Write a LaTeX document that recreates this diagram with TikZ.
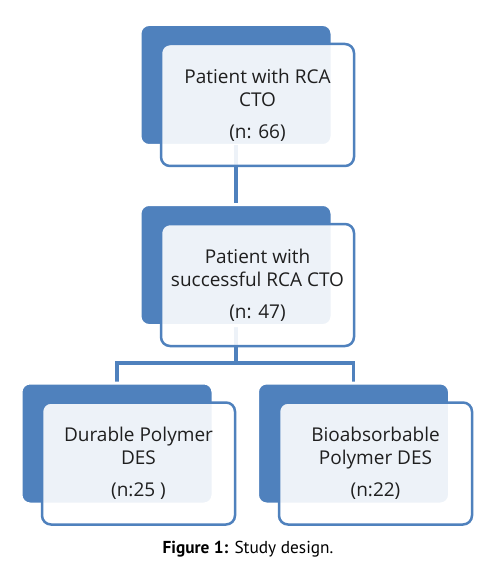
\documentclass[tikz,border=0pt]{standalone}
\usepackage{fontspec}
\setmainfont{Open Sans}
\newfontfamily\capfont{PT Sans}
\definecolor{obl}{HTML}{4F81BD}
\begin{document}
\begin{tikzpicture}[x=1pt,y=-1pt,
  backbox/.style={fill=obl,draw=white,line width=3pt,rounded corners=9pt,minimum width=192pt,minimum height=121pt,inner sep=0pt,outer sep=0pt},
  frontbox/.style={fill=white,fill opacity=0.9,draw=obl,draw opacity=1,line width=2.5pt,rounded corners=9pt,minimum width=193pt,minimum height=122pt,inner sep=0pt,outer sep=0pt,
    text opacity=1,align=center,font=\fontsize{19}{23}\selectfont,text=black!88},
  link/.style={draw=obl,line width=3.2pt}]
\useasboundingbox[fill=white] (0,0) rectangle (490,561);
% back boxes
\node[backbox] (b1) at (236,85) {};
\node[backbox] (b2) at (236,265) {};
\node[backbox] (b3) at (117,443.5) {};
\node[backbox] (b4) at (353.5,443.5) {};
\coordinate (j) at (236,363);
% connectors (behind front boxes)
\draw[link] (b1.south) -- (b2.north);
\draw[link] (b2.south) -- (j) -| (b3.north);
\draw[link] (j) -| (b4.north);
% redraw back boxes over connector ends
\node[backbox] at (236,265) {};
\node[backbox] at (117,443.5) {};
\node[backbox] at (353.5,443.5) {};
% front boxes
\node[frontbox] (f1) at (257.5,105) {Patient with RCA\\CTO\\[9pt](n: 66)};
\node[frontbox] (f2) at (257.5,285) {Patient with\\successful RCA CTO\\[9pt](n: 47)};
\node[frontbox] (f3) at (138.5,463.5) {Durable Polymer\\DES\\[9pt](n:25 )};
\node[frontbox] (f4) at (375.5,463.5) {Bioabsorbable\\Polymer DES\\[9pt](n:22)};
% caption
\node[anchor=base,font=\capfont\fontsize{17.3}{21}\selectfont,inner sep=0pt] (cap) at (248,553) {\textbf{Figure 1:} Study design.};
\end{tikzpicture}
\end{document}
